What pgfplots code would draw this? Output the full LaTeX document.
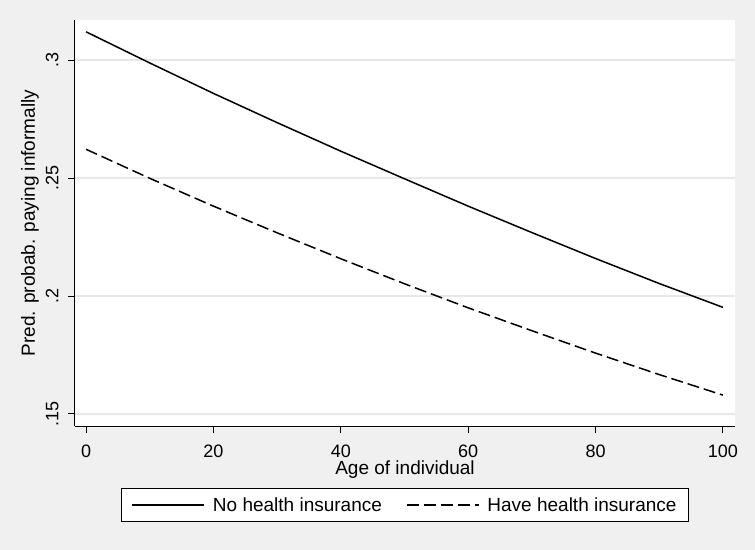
\documentclass[border=0pt]{standalone}
\usepackage{pgfplots}
\pgfplotsset{compat=1.18}
\usepackage{fontspec}
\setmainfont{Liberation Sans}
\definecolor{bgc}{RGB}{240,240,240}
\definecolor{gridc}{RGB}{232,232,232}
\begin{document}
\begin{tikzpicture}
\fill[bgc] (-75bp,-124bp) rectangle (680bp,426bp);
\begin{axis}[
  scale only axis, width=660bp, height=406bp,
  anchor=south west, at={(0,0)},
  xmin=-1.73, xmax=101.9, ymin=0.1449, ymax=0.317,
  axis lines*=left,
  axis line style={black, line width=1bp},
  axis background/.style={fill=white},
  xtick={0,20,40,60,80,100},
  ytick={0.15,0.2,0.25,0.3},
  yticklabels={.15,.2,.25,.3},
  tick align=outside, major tick length=7bp,
  tick style={black, line width=1bp},
  ymajorgrids, grid style={gridc, line width=1.5bp},
  /pgf/number format/assume math mode=true,
  ticklabel style={font=\fontsize{18bp}{21bp}\selectfont},
  yticklabel style={rotate=90, anchor=south},
  xticklabel shift=8bp,
  yticklabel shift=6bp,
  xlabel={Age of individual},
  ylabel={Pred. probab. paying informally},
  label style={font=\fontsize{19bp}{22bp}\selectfont},
  xlabel style={yshift=3bp},
  legend columns=2,
  legend style={at={(axis description cs:0.5,-0.1946)}, anchor=center,
    draw=black, fill=white, line width=0.8bp,
    inner xsep=10bp, inner ysep=7bp,
    font=\fontsize{19bp}{22bp}\selectfont,
    /tikz/every odd column/.append style={column sep=6bp},
    /tikz/every even column/.append style={column sep=22bp}},
  legend image code/.code={\draw[#1, line width=1.5bp] (0bp,0bp) -- (72bp,0bp);},
]
\addplot[black, line width=1.5bp] coordinates {
(0,0.3120) (10,0.2988) (20,0.2859) (30,0.2735) (40,0.2614) (50,0.2497)
(60,0.2381) (70,0.2269) (80,0.2159) (90,0.2053) (100,0.1952)};
\addlegendentry{No health insurance}
\addplot[black, line width=1.5bp, dash pattern=on 12bp off 5bp] coordinates {
(0,0.2622) (10,0.2499) (20,0.2381) (30,0.2268) (40,0.2158) (50,0.2052)
(60,0.1950) (70,0.1853) (80,0.1758) (90,0.1667) (100,0.1580)};
\addlegendentry{Have health insurance}
\end{axis}
\end{tikzpicture}
\end{document}
